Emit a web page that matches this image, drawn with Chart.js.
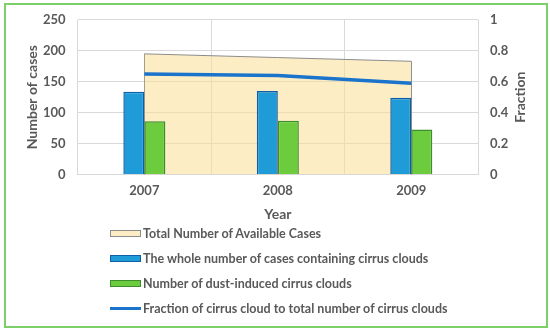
<!DOCTYPE html>
<html lang="en">
<head>
<meta charset="UTF-8">
<title>Cirrus cloud cases</title>
<script src="https://cdn.jsdelivr.net/npm/chart.js"></script>
<style>
  body { margin: 0; background: #fff; }
  #wrap { position: relative; width: 550px; height: 330px; }
  #frame { position: absolute; left: 4px; top: 3px; width: 540px; height: 321px; border: 2px solid #7dcf6a; pointer-events: none; }
  #chart { position: absolute; left: 0; top: 0; }
  #legend { position: absolute; left: 110px; top: 221px; font: bold 12.5px Lato, sans-serif; color: #595959; }
  .item { height: 25px; display: flex; align-items: center; white-space: nowrap; }
  .box { width: 31px; height: 7px; margin-right: 2px; box-sizing: border-box; border-width: 1.5px; border-style: solid; }
  .lineSample { width: 31px; height: 3px; margin-right: 2px; }
</style>
</head>
<body>
<div id="wrap">
  <canvas id="chart" width="550" height="330"></canvas>
  <div id="legend"></div>
  <div id="frame"></div>
</div>
<script>
// data
const years = ['2007', '2008', '2009'];
const totalCases = [195, 189, 183];
const cirrusCases = [134, 135, 124];
const dustCirrus = [86, 87, 73];
const cirrusFraction = [0.65, 0.64, 0.59];

const gray = '#595959';
const tickFont = { family: 'Lato', size: 13, weight: 'bold' };
const titleFont = { family: 'Lato', size: 14, weight: 'bold' };

// both axis titles read bottom-to-top, as in the Excel original
const sideTitles = {
  id: 'sideTitles',
  afterDraw(chart) {
    const { ctx, chartArea } = chart;
    const midY = (chartArea.top + chartArea.bottom) / 2;
    ctx.save();
    ctx.font = 'bold 14px Lato';
    ctx.fillStyle = gray;
    ctx.textAlign = 'center';
    ctx.textBaseline = 'middle';
    [[32, 'Number of cases'], [520, 'Fraction']].forEach(([x, text]) => {
      ctx.save();
      ctx.translate(x, midY);
      ctx.rotate(-Math.PI / 2);
      ctx.fillText(text, 0, 0);
      ctx.restore();
    });
    ctx.restore();
  }
};

// Excel outlines the whole area; Chart.js only strokes its top edge
const areaEdges = {
  id: 'areaEdges',
  beforeDatasetsDraw(chart) {
    const meta = chart.getDatasetMeta(0);
    const pts = meta.data;
    if (!pts.length) return;
    const { ctx } = chart;
    const base = chart.scales.y.getPixelForValue(0);
    ctx.save();
    ctx.strokeStyle = '#8c8c8c';
    ctx.lineWidth = 1;
    [pts[0], pts[pts.length - 1]].forEach(p => {
      ctx.beginPath();
      ctx.moveTo(Math.round(p.x) + 0.5, p.y);
      ctx.lineTo(Math.round(p.x) + 0.5, base);
      ctx.stroke();
    });
    ctx.restore();
  }
};

const chart = new Chart(document.getElementById('chart'), {
  type: 'bar',
  data: {
    labels: years,
    datasets: [
      {
        type: 'line',
        label: 'Total Number of Available Cases',
        data: totalCases,
        yAxisID: 'y',
        fill: 'origin',
        backgroundColor: 'rgba(251,222,150,0.55)',
        borderColor: '#8c8c8c',
        borderWidth: 1,
        pointRadius: 0,
        tension: 0,
        order: 3
      },
      {
        label: 'The whole number of cases containing cirrus clouds',
        data: cirrusCases,
        yAxisID: 'y',
        backgroundColor: '#1f9bd8',
        borderColor: '#0f5fa8',
        borderWidth: 1.5,
        categoryPercentage: 0.315,
        barPercentage: 1,
        order: 2
      },
      {
        label: 'Number of dust-induced cirrus clouds',
        data: dustCirrus,
        yAxisID: 'y',
        backgroundColor: '#6ccc3e',
        borderColor: '#3c8f2b',
        borderWidth: 1.5,
        categoryPercentage: 0.315,
        barPercentage: 1,
        order: 2
      },
      {
        type: 'line',
        label: 'Fraction of cirrus cloud to total number of cirrus clouds',
        data: cirrusFraction,
        yAxisID: 'y1',
        fill: false,
        borderColor: '#1a74cc',
        borderWidth: 3.5,
        pointRadius: 0,
        tension: 0,
        order: 1
      }
    ]
  },
  options: {
    responsive: false,
    animation: false,
    layout: { padding: { left: 31, right: 5, top: 16, bottom: 103 } },
    plugins: { legend: { display: false }, tooltip: { enabled: false } },
    scales: {
      x: {
        grid: { color: '#d9d9d9', drawTicks: false },
        border: { color: '#d9d9d9' },
        ticks: { color: gray, font: tickFont, padding: 8 },
        title: { display: true, text: 'Year', color: gray, font: titleFont, padding: { top: 0 } }
      },
      y: {
        position: 'left',
        min: 0, max: 250,
        ticks: { stepSize: 50, color: gray, font: tickFont, padding: 12 },
        grid: { color: '#d9d9d9', drawTicks: false },
        border: { display: false },
        title: { display: false, text: 'Number of cases' }
      },
      y1: {
        position: 'right',
        min: 0, max: 1,
        ticks: { stepSize: 0.2, color: gray, font: tickFont, padding: 12,
                 callback: v => String(+v.toFixed(1)) },
        grid: { drawOnChartArea: false, drawTicks: false },
        border: { display: false },
        title: { display: true, text: 'Fraction', color: 'rgba(0,0,0,0)', font: titleFont }
      }
    }
  },
  plugins: [sideTitles, areaEdges]
});

// vertical legend below the chart, built from the datasets
const legend = document.getElementById('legend');
chart.data.datasets.forEach(ds => {
  const item = document.createElement('div');
  item.className = 'item';
  const mark = document.createElement('span');
  if (ds.fill === false) {
    mark.className = 'lineSample';
    mark.style.background = ds.borderColor;
  } else {
    mark.className = 'box';
    mark.style.background = ds.backgroundColor;
    mark.style.borderColor = ds.borderColor;
  }
  item.appendChild(mark);
  item.appendChild(document.createTextNode(ds.label));
  legend.appendChild(item);
});
</script>
</body>
</html>
